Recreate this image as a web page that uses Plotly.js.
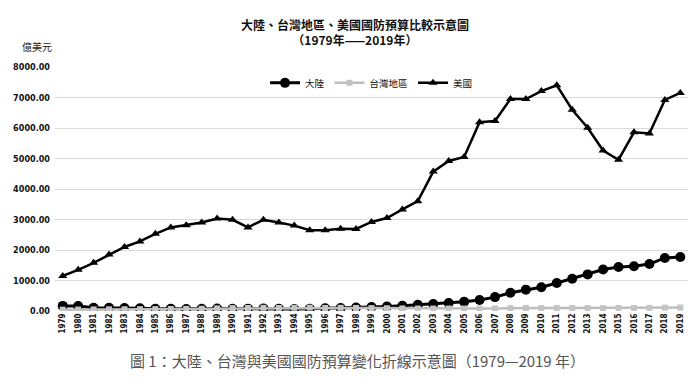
<!DOCTYPE html>
<html><head><meta charset="utf-8">
<script src="https://cdn.plot.ly/plotly-3.0.1.min.js"></script>
<style>html,body{margin:0;padding:0;background:#fff}#c{width:700px;height:384px}</style>
</head><body><div id="c"></div>
<script>
const years = ["1979","1980","1981","1982","1983","1984","1985","1986","1987","1988","1989","1990","1991","1992","1993","1994","1995","1996","1997","1998","1999","2000","2001","2002","2003","2004","2005","2006","2007","2008","2009","2010","2011","2012","2013","2014","2015","2016","2017","2018","2019"];
const mainland = [168,163,108,106,100,92,75,70,68,73,80,75,77,86,75,64,76,87,98,112,130,146,170,205,230,265,300,360,455,600,700,780,920,1060,1200,1360,1440,1470,1540,1740,1770];
const taiwan = [45,48,52,55,58,60,62,66,70,75,85,95,100,105,100,105,110,100,105,100,95,90,85,80,80,82,80,80,85,95,100,95,100,100,95,95,100,100,105,110,112];
const usa = [1150,1350,1580,1850,2100,2280,2530,2740,2810,2900,3030,2990,2740,2990,2900,2800,2650,2650,2700,2690,2920,3050,3330,3600,4570,4920,5050,6190,6230,6950,6950,7210,7400,6600,6010,5260,4960,5860,5820,6920,7150];
const names = ["大陸","台灣地區","美國"];
const titleText = "大陸、台灣地區、美國國防預算比較示意圖<br>（1979年——2019年）";
const unitText = "億美元";
const captionText = "圖 1：大陸、台灣與美國國防預算變化折線示意圖（1979—2019 年）";

const cjk = '"Noto Sans CJK TC","Noto Sans CJK SC",sans-serif';
const narrow = '"Liberation Sans Narrow","DejaVu Sans Condensed",sans-serif';
const traces = [
  {x: years, y: mainland, name: names[0], type:'scatter', mode:'lines+markers', legendrank:1,
   line:{color:'#000', width:3}, marker:{symbol:'circle', size:10, color:'#000'}},
  {x: years, y: usa, name: names[2], type:'scatter', mode:'lines+markers', legendrank:3,
   line:{color:'#000', width:2.5}, marker:{symbol:'triangle-up', size:8, color:'#000'}},
  {x: years, y: taiwan, name: names[1], type:'scatter', mode:'lines+markers', legendrank:2,
   line:{color:'#bdbdbd', width:2.5}, marker:{symbol:'square', size:6, color:'#c4c4c4'}}
];
const layout = {
  width:700, height:384,
  margin:{l:55, r:12, t:67, b:73},
  paper_bgcolor:'#fff', plot_bgcolor:'#fff',
  title:{text:titleText, x:0.507, xanchor:'center', y:0.923, yanchor:'top',
    font:{family:cjk, size:12, color:'#111', weight:'bold'}},
  showlegend:true,
  legend:{orientation:'h', x:0.50, xanchor:'center', y:0.935, yanchor:'middle',
    font:{family:cjk, size:9.5, color:'#111'}, bgcolor:'rgba(0,0,0,0)', itemwidth:30, tracegroupgap:0},
  xaxis:{type:'category', range:[-0.5, 40.5], tickangle:-90, showgrid:false, zeroline:false,
    showline:false, ticks:'', tickfont:{family:narrow, size:8, color:'#111', weight:'bold'}, fixedrange:true},
  yaxis:{range:[0, 8000], dtick:1000, tickformat:'.2f', showgrid:true, gridcolor:'#d9d9d9', gridwidth:1,
    zeroline:false, showline:false, ticks:'', ticklabelstandoff:4,
    tickfont:{family:narrow, size:9, color:'#111', weight:'bold'}},
  annotations:[
    {text:unitText, xref:'paper', yref:'paper', x:-0.055, y:1.085, xanchor:'left', yanchor:'middle', showarrow:false,
     font:{family:cjk, size:10, color:'#222'}},
    {text:captionText, xref:'paper', yref:'paper', x:0.4775, y:-0.201, xanchor:'center', yanchor:'middle', showarrow:false,
     font:{family:cjk, size:15, color:'#555'}}
  ]
};
Plotly.newPlot('c', traces, layout, {displayModeBar:false, staticPlot:true});
</script></body></html>
